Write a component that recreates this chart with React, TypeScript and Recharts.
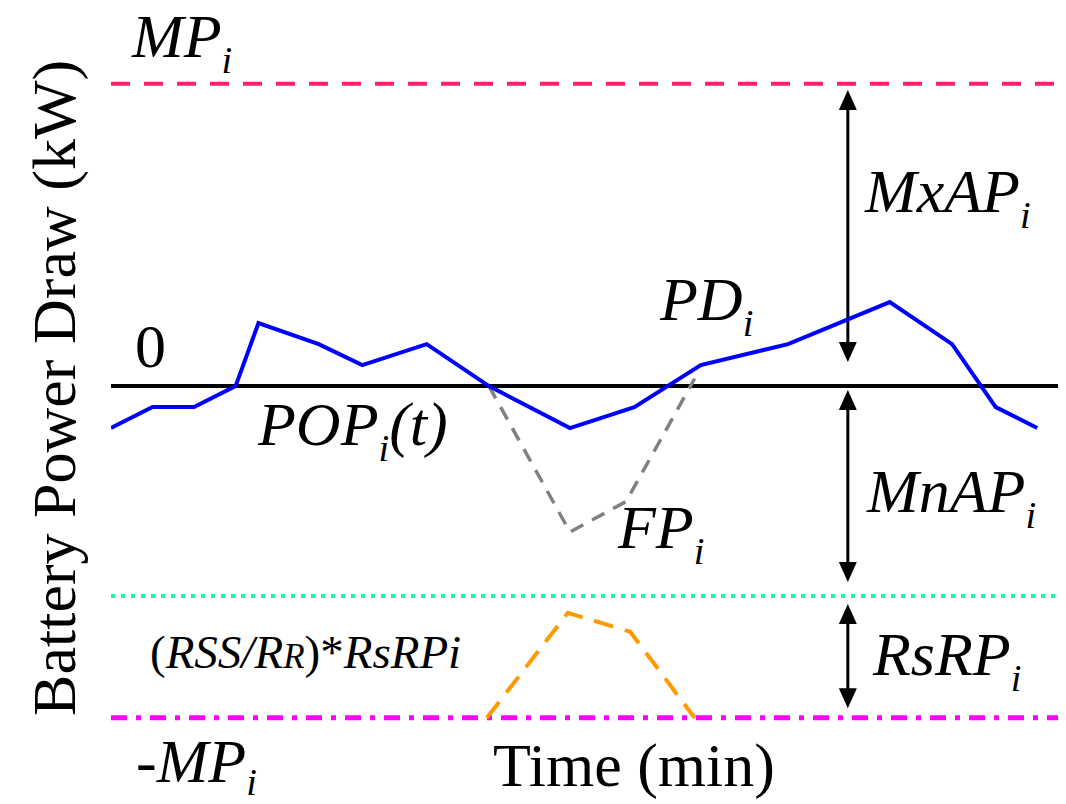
import { LineChart, Line, XAxis, YAxis, ReferenceLine } from "recharts";

const FONT = "'Liberation Serif', 'Times New Roman', Times, serif";

// power draw PD_i (blue)
const pdTime = [0, 1, 2, 3, 3.55, 5, 6.05, 7.6, 9.1, 11.05, 12.6, 14.2, 16.3, 18.75, 20.25, 21.3, 22.3];
const pdValue = [-2, -1, -1, 0, 3, 2, 1, 2, 0, -2, -1, 1, 2, 4, 2, -1, -2];

// FP_i (grey dashed)
const fpTime = [9.1, 11.05, 12.4, 14.05];
const fpValue = [0, -6.95, -5.5, 0.35];

// (RSS/RR)*RsRP_i (orange dashed)
const rsTime = [9.05, 11.0, 12.5, 14.05];
const rsValue = [-15.8, -10.8, -11.7, -15.8];

// levels
const MP = 14.4;
const RS_LEVEL = -10;
const NEG_MP = -15.8;

// double arrows: [from, to]
const ARROW_X = 17.74;
const arrowMxAP = [14.1, 1.15];
const arrowMnAP = [-0.19, -9.33];
const arrowRsRP = [-10.38, -15.34];

const pdData = pdTime.map((t, i) => ({ t, v: pdValue[i] }));
const fpData = fpTime.map((t, i) => ({ t, v: fpValue[i] }));
const rsData = rsTime.map((t, i) => ({ t, v: rsValue[i] }));

const DoubleArrow = (props: any) => {
  const { x1, y1, y2 } = props;
  const top = Math.min(y1, y2);
  const bot = Math.max(y1, y2);
  const h = 20;
  const w = 9;
  return (
    <g>
      <line x1={x1} y1={top + h - 2} x2={x1} y2={bot - h + 2} stroke="#000" strokeWidth={3} />
      <polygon points={`${x1},${top} ${x1 - w},${top + h} ${x1 + w},${top + h}`} fill="#000" />
      <polygon points={`${x1},${bot} ${x1 - w},${bot - h} ${x1 + w},${bot - h}`} fill="#000" />
    </g>
  );
};

const arrow = (seg: number[], key: string) => (
  <ReferenceLine
    key={key}
    segment={[
      { x: ARROW_X, y: seg[0] },
      { x: ARROW_X, y: seg[1] },
    ]}
    shape={DoubleArrow}
  />
);

// html label placed by its baseline
const Lbl = ({ x, y, size = 62, italic = false, children }: any) => (
  <div
    style={{
      position: "absolute",
      left: x,
      top: y - 0.8375 * size,
      fontSize: size,
      lineHeight: 1,
      whiteSpace: "nowrap",
      fontFamily: FONT,
      fontStyle: italic ? "italic" : "normal",
      color: "#000",
    }}
  >
    {children}
  </div>
);

const Sub = ({ size = 62, drop = 16 }: any) => (
  <span style={{ fontSize: size * 0.62, position: "relative", top: drop, fontStyle: "italic" }}>i</span>
);

export default function App() {
  const ys = 62;
  const base = 0.8375 * ys;
  return (
    <div style={{ position: "absolute", left: 0, top: 0, width: 1066, height: 804, overflow: "hidden" }}>
      <LineChart width={1066} height={804} margin={{ top: 25, right: 8, bottom: 82, left: 111 }}>
        <XAxis
          type="number"
          dataKey="t"
          domain={[0, 22.8]}
          allowDataOverflow
          height={0}
          tick={false}
          tickLine={false}
          axisLine={{ stroke: "#000", strokeWidth: 6 }}
        />
        <YAxis
          type="number"
          dataKey="v"
          domain={[-16, 17.2]}
          allowDataOverflow
          width={0}
          tick={false}
          tickLine={false}
          axisLine={{ stroke: "#000", strokeWidth: 6 }}
        />
        <ReferenceLine y={MP} stroke="#FF1F6E" strokeWidth={4} strokeDasharray="19 14" />
        <ReferenceLine y={RS_LEVEL} stroke="#1DF5A0" strokeWidth={4} strokeDasharray="4 6" />
        <ReferenceLine y={NEG_MP} stroke="#FF00FF" strokeWidth={5} strokeDasharray="16 9 5 9" />
        <ReferenceLine y={0} stroke="#000" strokeWidth={4} />
        {arrow(arrowMxAP, "a1")}
        {arrow(arrowMnAP, "a2")}
        {arrow(arrowRsRP, "a3")}
        <Line
          data={rsData}
          dataKey="v"
          type="linear"
          stroke="#FF9900"
          strokeWidth={4}
          strokeDasharray="20 12"
          dot={false}
          isAnimationActive={false}
        />
        <Line
          data={fpData}
          dataKey="v"
          type="linear"
          stroke="#808080"
          strokeWidth={3.5}
          strokeDasharray="14 10"
          dot={false}
          isAnimationActive={false}
        />
        <Line
          data={pdData}
          dataKey="v"
          type="linear"
          stroke="#0000FF"
          strokeWidth={4}
          dot={false}
          isAnimationActive={false}
        />
      </LineChart>

      <div
        style={{
          position: "absolute",
          left: 75 - 400,
          top: 388 - base,
          width: 800,
          textAlign: "center",
          fontSize: ys,
          lineHeight: 1,
          whiteSpace: "nowrap",
          fontFamily: FONT,
          transformOrigin: `400px ${base}px`,
          transform: "rotate(-90deg)",
        }}
      >
        Battery Power Draw (kW)
      </div>
      <Lbl x={493} y={786}>Time (min)</Lbl>
      <Lbl x={135} y={367}>0</Lbl>
      <Lbl x={132} y={57} italic>
        MP<Sub />
      </Lbl>
      <Lbl x={136} y={782}>
        -<i>MP</i>
        <Sub drop={13} />
      </Lbl>
      <Lbl x={258} y={445} italic>
        POP<Sub />(t)
      </Lbl>
      <Lbl x={660} y={320} italic>
        PD<Sub />
      </Lbl>
      <Lbl x={618} y={548} italic>
        FP<Sub />
      </Lbl>
      <Lbl x={865} y={212} italic>
        MxAP<Sub />
      </Lbl>
      <Lbl x={867} y={512} italic>
        MnAP<Sub />
      </Lbl>
      <Lbl x={873} y={675} italic>
        RsRP<Sub />
      </Lbl>
      <Lbl x={150} y={668} size={47}>
        (<i>RSS/R</i>
        <i style={{ fontSize: 35 }}>R</i>)*<i>RsRPi</i>
      </Lbl>
    </div>
  );
}
